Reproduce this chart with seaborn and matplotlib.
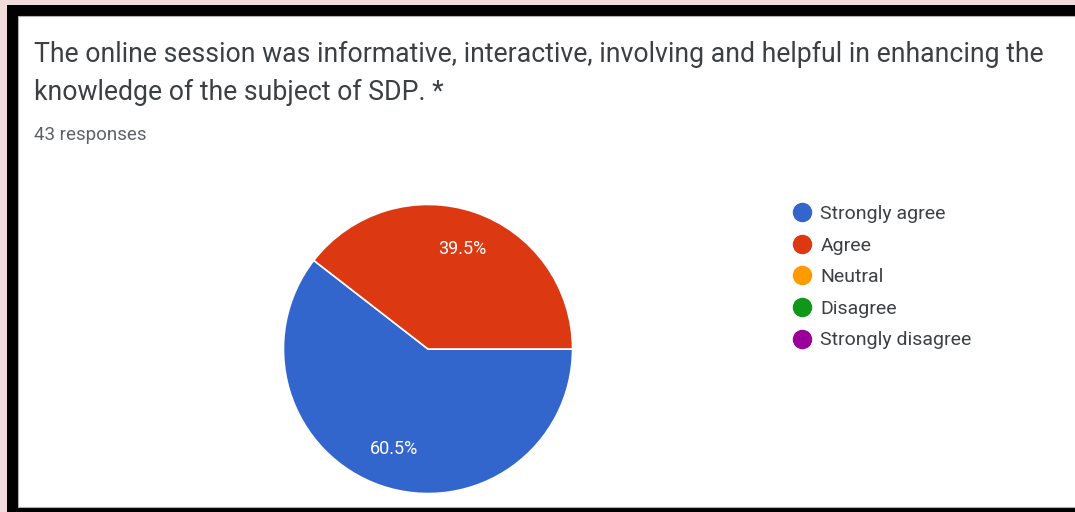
import matplotlib
matplotlib.use("Agg")
import matplotlib.pyplot as plt
from matplotlib.patches import Rectangle
from matplotlib.lines import Line2D
import seaborn as sns

# survey answers
categories = ['Strongly agree', 'Agree', 'Neutral', 'Disagree', 'Strongly disagree']
percent = [60.5, 39.5, 0, 0, 0]
colors = ['#3366cc', '#dc3912', '#ff9900', '#109618', '#990099']
question = ("The online session was informative, interactive, involving and helpful in enhancing the\n"
            "knowledge of the subject of SDP. *")
n_responses = "43 responses"

sns.set_theme(style="white")
plt.rcParams['font.family'] = ['Roboto', 'DejaVu Sans']

W, H = 1075, 512
fig = plt.figure(figsize=(W / 100, H / 100), dpi=100, facecolor='#f1dcdc')

# dark frame and white card
fig.patches.append(Rectangle((7 / W, 0), 1, (H - 5) / H, transform=fig.transFigure,
                             facecolor='black', edgecolor='none', zorder=-2))
fig.patches.append(Rectangle((18 / W, 5 / H), 1, (H - 21) / H, transform=fig.transFigure,
                             facecolor='white', edgecolor='#b0b0b0', linewidth=0.8, zorder=-1))

fig.text(34 / W, 1 - 41 / H, question, fontsize=19.2, color='#3c4043',
         va='top', ha='left', linespacing=1.52)
fig.text(34 / W, 1 - 135 / H, n_responses, fontsize=13.5, color='#5f6368',
         va='center', ha='left')

# pie
cx, cy, r = 428, H - 349, 146
ax = fig.add_axes([(cx - r) / W, (cy - r) / H, 2 * r / W, 2 * r / H])
nonzero = [(p, c) for p, c in zip(percent, colors) if p > 0]
wedges, texts, autotexts = ax.pie([p for p, _ in nonzero], colors=[c for _, c in nonzero],
                                  startangle=0, counterclock=False,
                                  autopct='%1.1f%%', pctdistance=0.73,
                                  wedgeprops=dict(edgecolor='white', linewidth=1.2))
for t in autotexts:
    t.set_color('white')
    t.set_fontsize(13)
ax.set_xlim(-1.01, 1.01)
ax.set_ylim(-1.01, 1.01)
ax.set_aspect('equal')
ax.axis('off')

handles = [Line2D([], [], marker='o', linestyle='none', markersize=13,
                  markerfacecolor=c, markeredgecolor=c) for c in colors]
fig.legend(handles, categories, loc='upper left', bbox_to_anchor=(790 / W, 1 - 205 / H),
           frameon=False, fontsize=14, labelspacing=0.7, handletextpad=0.36,
           borderaxespad=0, borderpad=0, handlelength=1.2, labelcolor='#3c4043')

fig.savefig('out.png', dpi=100, facecolor=fig.get_facecolor())
